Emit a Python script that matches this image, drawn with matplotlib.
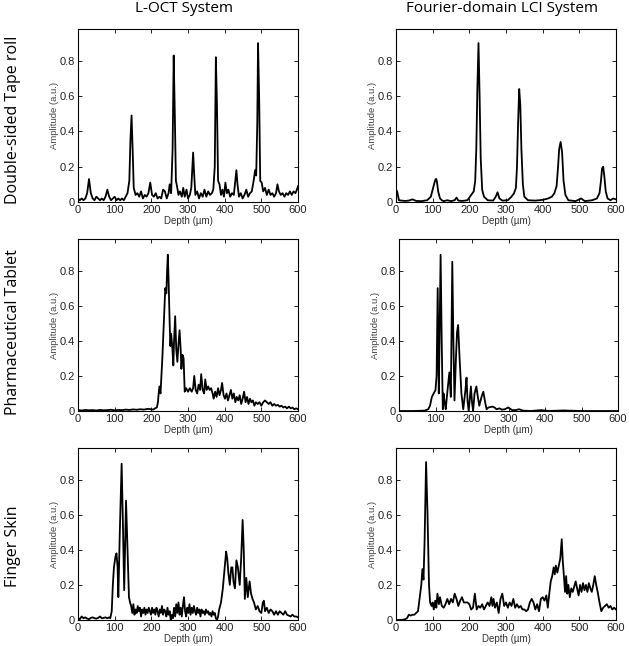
import numpy as np
import matplotlib
matplotlib.use("Agg")
import matplotlib.pyplot as plt

# column / row headings
col_titles = ["L-OCT System", "Fourier-domain LCI System"]
row_titles = ["Double-sided Tape roll", "Pharmaceutical Tablet", "Finger Skin"]

x_ticks = [0, 100, 200, 300, 400, 500, 600]
y_ticks = [0, 0.2, 0.4, 0.6, 0.8]
y_tick_labels = ["0", "0.2", "0.4", "0.6", "0.8"]

# --- tape roll, L-OCT
tape_loct_depth = [
    0, 5, 10, 15, 20, 25, 30, 35, 40, 45,
    50, 55, 60, 65, 70, 75, 80, 85, 90, 95,
    100, 105, 110, 115, 120, 125, 130, 135, 140, 143,
    146, 149, 152, 157, 162, 167, 172, 177, 182, 187,
    192, 197, 202, 207, 212, 217, 222, 227, 232, 237,
    242, 247, 250, 254, 258, 261, 264, 267, 270, 274,
    278, 283, 287, 291, 296, 300, 305, 309, 312, 314,
    317, 320, 325, 330, 335, 340, 345, 350, 355, 360,
    365, 369, 373, 376, 379, 382, 386, 390, 394, 398,
    402, 406, 410, 415, 420, 425, 429, 432, 435, 439,
    444, 449, 454, 459, 464, 469, 474, 479, 483, 486,
    489, 491, 494, 497, 501, 505, 510, 515, 520, 525,
    530, 535, 540, 544, 548, 553, 558, 563, 568, 573,
    578, 583, 588, 593, 597, 600]
tape_loct_amp = [
    .02, .01, .02, .01, .02, .05, .13, .05, .02, .01,
    .03, .02, .01, .02, .01, .03, .07, .03, .01, .02,
    .03, .01, .02, .01, .02, .01, .03, .05, .12, .35,
    .49, .30, .08, .04, .05, .03, .06, .02, .04, .03,
    .05, .11, .04, .03, .05, .02, .03, .02, .07, .06,
    .02, .05, .10, .05, .30, .83, .50, .12, .09, .04,
    .06, .03, .08, .03, .07, .02, .04, .08, .20, .28,
    .15, .04, .06, .02, .05, .03, .07, .03, .06, .04,
    .05, .07, .20, .82, .55, .12, .10, .04, .07, .03,
    .11, .05, .07, .03, .05, .04, .12, .18, .10, .03,
    .05, .02, .04, .07, .03, .05, .06, .12, .18, .15,
    .45, .90, .60, .12, .11, .06, .08, .04, .07, .04,
    .05, .03, .05, .10, .06, .04, .05, .03, .05, .04,
    .06, .04, .06, .05, .07, .09]

# --- tape roll, FD-LCI
tape_fd_depth = [
    0, 3, 8, 15, 25, 35, 45, 55, 70, 85,
    95, 100, 105, 108, 110, 112, 115, 120, 125, 130,
    140, 150, 160, 165, 170, 180, 195, 205, 212, 216,
    219, 222, 225, 228, 231, 235, 240, 250, 265, 272,
    277, 282, 290, 305, 315, 322, 327, 330, 333, 336,
    339, 342, 346, 350, 360, 380, 400, 415, 425, 432,
    438, 442, 445, 449, 453, 457, 462, 470, 490, 505,
    515, 535, 548, 555, 559, 562, 565, 568, 572, 577,
    585, 592, 600]
tape_fd_amp = [
    .07, .06, .01, .008, .006, .008, .015, .006, .005, .01,
    .03, .07, .11, .13, .13, .11, .06, .02, .01, .005,
    .01, .005, .01, .025, .008, .006, .01, .04, .06, .12,
    .3, .65, .90, .6, .25, .07, .03, .01, .008, .03,
    .055, .02, .008, .01, .03, .05, .08, .2, .45, .64,
    .55, .3, .1, .03, .01, .008, .012, .02, .03, .05,
    .09, .2, .3, .34, .28, .12, .04, .01, .005, .02,
    .005, .01, .02, .05, .12, .19, .2, .15, .06, .02,
    .01, .02, .015]

# --- tablet, L-OCT
tablet_loct_depth = [
    0, 10, 20, 30, 40, 50, 60, 70, 80, 90,
    100, 110, 120, 130, 140, 150, 160, 170, 180, 190,
    200, 205, 210, 215, 218, 220, 222, 225, 230, 235,
    238, 241, 243, 245, 247, 250, 252, 254, 257, 260,
    262, 265, 268, 271, 274, 277, 280, 282, 285, 288,
    291, 295, 300, 305, 310, 314, 317, 321, 325, 329,
    333, 336, 340, 344, 347, 351, 355, 359, 363, 367,
    370, 374, 378, 382, 386, 390, 393, 397, 401, 405,
    409, 413, 417, 421, 425, 429, 433, 437, 441, 445,
    449, 453, 457, 461, 465, 469, 473, 477, 481, 485,
    490, 495, 500, 505, 510, 515, 520, 525, 530, 535,
    540, 545, 550, 555, 560, 565, 570, 575, 580, 585,
    590, 595, 600]
tablet_loct_amp = [
    .005, .003, .006, .004, .005, .003, .006, .004, .005, .007,
    .004, .006, .005, .008, .006, .009, .007, .01, .008, .012,
    .01, .008, .015, .02, .05, .1, .14, .1, .3, .55,
    .7, .67, .8, .89, .75, .5, .37, .44, .37, .26,
    .4, .54, .35, .28, .38, .46, .35, .24, .32, .3,
    .11, .13, .11, .13, .11, .13, .2, .12, .1, .15,
    .12, .21, .12, .1, .18, .12, .14, .12, .13, .1,
    .07, .11, .08, .13, .09, .12, .16, .09, .07, .1,
    .06, .09, .12, .07, .1, .05, .08, .06, .09, .04,
    .07, .11, .05, .08, .04, .07, .05, .06, .03, .05,
    .04, .05, .03, .05, .06, .05, .04, .05, .03, .04,
    .03, .035, .025, .03, .02, .025, .015, .025, .015, .02,
    .01, .015, .01]

# --- tablet, FD-LCI
tablet_fd_depth = [
    0, 40, 70, 80, 85, 90, 95, 100, 103, 106,
    109, 111, 114, 117, 120, 122, 125, 128, 133, 138,
    142, 146, 149, 152, 156, 159, 162, 166, 171, 176,
    182, 185, 188, 191, 197, 200, 203, 207, 212, 216,
    220, 226, 231, 236, 240, 245, 256, 262, 267, 275,
    282, 290, 299, 310, 320, 329, 340, 360, 390, 410,
    450, 500, 600]
tablet_fd_amp = [
    0, 0, .002, .01, .03, .08, .1, .12, .2, .7,
    .1, .4, .89, .4, .01, .1, .05, .01, .12, .22,
    .08, .85, .4, .06, .3, .45, .49, .3, .1, .01,
    .12, .19, .05, 0, .14, .05, 0, .1, .14, .08,
    .03, .08, .11, .05, .01, .02, .025, .02, .01, .015,
    .008, .01, .02, .005, .005, .01, .002, 0, .005, 0,
    .003, 0, 0]

# --- finger skin, L-OCT
skin_loct_depth = [
    0, 5, 10, 15, 20, 25, 30, 35, 40, 45,
    50, 55, 60, 65, 70, 75, 80, 85, 88, 92,
    95, 98, 102, 105, 108, 110, 114, 119, 122, 126,
    131, 135, 139, 142, 145, 148, 151, 154, 157, 160,
    163, 166, 169, 172, 175, 178, 181, 184, 187, 190,
    193, 196, 199, 202, 205, 208, 211, 214, 217, 220,
    223, 226, 229, 232, 235, 238, 241, 244, 247, 250,
    253, 256, 259, 262, 265, 268, 271, 274, 277, 280,
    283, 286, 289, 292, 295, 298, 301, 304, 307, 310,
    313, 316, 319, 322, 325, 328, 331, 334, 337, 340,
    343, 346, 349, 352, 355, 358, 361, 364, 367, 370,
    373, 376, 379, 382, 385, 390, 395, 400, 404, 407,
    410, 414, 418, 421, 424, 428, 432, 436, 441, 445,
    449, 452, 455, 459, 463, 468, 472, 476, 480, 485,
    490, 495, 500, 504, 507, 510, 515, 520, 525, 530,
    535, 540, 545, 550, 555, 560, 565, 570, 575, 580,
    585, 590, 595, 600]
skin_loct_amp = [
    .01, .005, .02, .01, .015, .008, .005, .012, .015, .01,
    .008, .012, .02, .01, .012, .015, .01, .015, .01, .05,
    .2, .3, .36, .38, .3, .13, .5, .89, .6, .17,
    .68, .4, .13, .1, .08, .04, .09, .03, .06, .04,
    .08, .05, .07, .02, .06, .04, .07, .03, .06, .04,
    .07, .05, .03, .07, .04, .06, .03, .07, .05, .02,
    .06, .04, .08, .03, .06, .05, .02, .07, .03, .05,
    0, .03, .01, .07, .02, .09, .04, .1, .03, .07,
    .02, .08, .13, .05, .02, .07, .04, .09, .03, .07,
    .04, .08, .05, .03, .07, .04, .06, .02, .06, .04,
    .05, .03, .06, .04, .05, .03, .04, .02, .05, .03,
    .04, .01, 0, .02, .06, .1, .18, .3, .39, .35,
    .27, .2, .3, .3, .22, .18, .34, .3, .2, .35,
    .57, .4, .12, .24, .13, .22, .15, .12, .1, .06,
    .08, .05, .04, .1, .11, .05, .07, .04, .06, .05,
    .03, .05, .03, .05, .04, .03, .05, .03, .025, .02,
    .03, .02, .02, .015]

# --- finger skin, FD-LCI
skin_fd_depth = [
    0, 10, 20, 25, 30, 35, 40, 45, 50, 55,
    60, 63, 66, 69, 72, 75, 78, 82, 86, 90,
    93, 97, 100, 103, 107, 110, 113, 117, 120, 125,
    130, 135, 140, 145, 150, 155, 160, 165, 170, 175,
    180, 185, 190, 195, 200, 205, 210, 215, 220, 225,
    230, 235, 240, 245, 250, 255, 260, 263, 266, 270,
    275, 280, 285, 290, 295, 300, 305, 310, 315, 320,
    325, 330, 335, 340, 345, 350, 355, 360, 365, 370,
    375, 380, 385, 390, 395, 400, 405, 410, 414, 418,
    422, 426, 430, 433, 436, 440, 444, 448, 452, 455,
    458, 461, 464, 467, 470, 474, 478, 482, 486, 490,
    494, 498, 502, 506, 510, 514, 518, 522, 526, 530,
    534, 538, 542, 546, 550, 555, 560, 565, 570, 575,
    580, 585, 590, 595, 600]
skin_fd_amp = [
    0, 0, .002, .005, .01, .03, .025, .03, .03, .04,
    .05, .1, .15, .2, .29, .23, .45, .9, .6, .2,
    .1, .08, .1, .06, .11, .07, .15, .09, .13, .08,
    .07, .09, .12, .09, .12, .1, .15, .12, .08, .11,
    .13, .1, .1, .1, .09, .06, .07, .15, .06, .08,
    .07, .09, .06, .08, .1, .08, .13, .08, .12, .07,
    .1, .04, .12, .15, .08, .1, .07, .1, .08, .12,
    .07, .09, .07, .08, .06, .06, .05, .06, .1, .12,
    .1, .06, .09, .05, .12, .13, .11, .14, .07, .15,
    .22, .25, .3, .26, .31, .27, .31, .35, .46, .33,
    .25, .16, .25, .15, .2, .13, .18, .16, .19, .22,
    .18, .14, .2, .16, .21, .17, .2, .16, .21, .18,
    .16, .2, .25, .2, .16, .1, .05, .07, .08, .09,
    .07, .08, .06, .07, .06]

panels = [
    [(tape_loct_depth, tape_loct_amp), (tape_fd_depth, tape_fd_amp)],
    [(tablet_loct_depth, tablet_loct_amp), (tablet_fd_depth, tablet_fd_amp)],
    [(skin_loct_depth, skin_loct_amp), (skin_fd_depth, skin_fd_amp)],
]

W, H = 629, 646
fig = plt.figure(figsize=(W / 100, H / 100), dpi=100)

# axes boxes in pixels, one row per line: left col (x0, x1), right col (x0, x1)
col_x = [[(78, 298), (396, 616)],
         [(78, 298), (399, 618)],
         [(78, 298), (396, 616)]]
row_y = [(29, 202), (239, 411), (448, 620)]

tick_font = "Liberation Sans"
head_font = "Open Sans"

for r, row in enumerate(panels):
    for c, (depth, amp) in enumerate(row):
        x0, x1 = col_x[r][c]
        y0, y1 = row_y[r]
        ax = fig.add_axes([x0 / W, 1 - y1 / H, (x1 - x0) / W, (y1 - y0) / H])
        ax.plot(depth, amp, color="black", lw=1.3)
        ax.set_xlim(0, 600)
        ax.set_ylim(0, 0.98)
        ax.set_xticks(x_ticks)
        ax.set_yticks(y_ticks)
        ax.set_yticklabels(y_tick_labels)
        ax.tick_params(direction="in", top=True, right=True, length=3,
                       width=0.6, labelsize=8, pad=2)
        for lab in ax.get_xticklabels() + ax.get_yticklabels():
            lab.set_family(tick_font)
            lab.set_color("#222222")
        for sp in ax.spines.values():
            sp.set_linewidth(0.8)
        ax.set_xlabel("Depth (\u00b5m)", fontsize=7, family=tick_font,
                      color="#333333", labelpad=1)
        ax.set_ylabel("Amplitude (a.u.)", fontsize=6.8, family=tick_font,
                      color="#444444", labelpad=0.5)

# column headings
fig.text(184 / W, 1 - 8 / H, col_titles[0], ha="center", va="center",
         fontsize=11, family=head_font)
fig.text(502 / W, 1 - 8 / H, col_titles[1], ha="center", va="center",
         fontsize=11, family=head_font)

# row headings
row_centers = [120, 332, 546]
for name, yc in zip(row_titles, row_centers):
    fig.text(13 / W, 1 - yc / H, name, rotation=90, ha="center",
             va="center", fontsize=11.5, family=head_font)

fig.savefig("out.png", dpi=100)
